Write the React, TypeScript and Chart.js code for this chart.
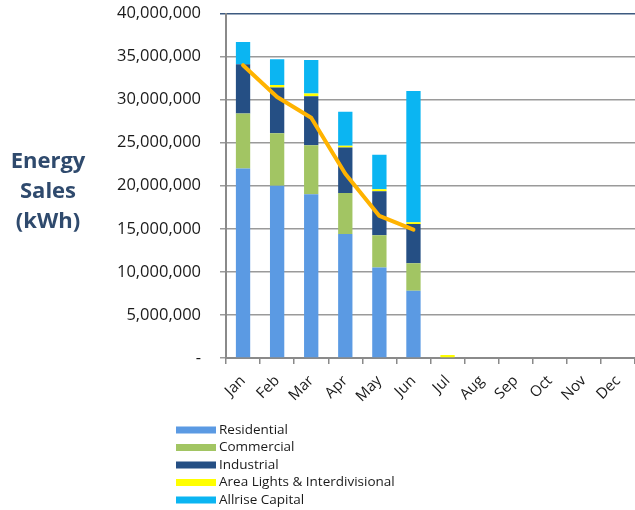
import React, { useEffect, useRef } from "react";
import { Chart, registerables } from "chart.js";

Chart.register(...registerables);

const months = ["Jan", "Feb", "Mar", "Apr", "May", "Jun", "Jul", "Aug", "Sep", "Oct", "Nov", "Dec"];
const residential = [22000000, 20000000, 19000000, 14400000, 10500000, 7800000, 0, 0, 0, 0, 0, 0];
const commercial = [6400000, 6100000, 5700000, 4750000, 3750000, 3200000, 0, 0, 0, 0, 0, 0];
const industrial = [5700000, 5300000, 5700000, 5300000, 5100000, 4550000, 0, 0, 0, 0, 0, 0];
const areaLights = [0, 300000, 300000, 200000, 250000, 200000, 350000, 0, 0, 0, 0, 0];
const allrise = [2600000, 3000000, 3900000, 3950000, 4000000, 15250000, 0, 0, 0, 0, 0, 0];
const totalLine = [34000000, 30300000, 27900000, 21400000, 16500000, 14900000, null, null, null, null, null, null];

const seriesNames = ["Residential", "Commercial", "Industrial", "Area Lights & Interdivisional", "Allrise Capital"];
const seriesColors = ["#5B9AE3", "#A2C563", "#254F84", "#FFFF00", "#0BB5F2"];
const titleLines = ["Energy", "Sales", "(kWh)"];

const yMax = 40000000;
const yStep = 5000000;

const titlePlugin = {
  id: "sideTitle",
  afterDraw(chart: any) {
    const ctx = chart.ctx;
    ctx.save();
    ctx.font = "bold 22px 'Open Sans'";
    ctx.fillStyle = "#2F4A6D";
    ctx.textAlign = "center";
    ctx.textBaseline = "alphabetic";
    const baselines = [168, 198, 228];
    titleLines.forEach((t, i) => ctx.fillText(t, 48, baselines[i]));
    ctx.restore();
  },
};

const legendPlugin = {
  id: "customLegend",
  afterDraw(chart: any) {
    const ctx = chart.ctx;
    ctx.save();
    ctx.font = "13.5px 'Open Sans'";
    ctx.textAlign = "left";
    ctx.textBaseline = "middle";
    const bars = chart.data.datasets.filter((d: any) => d.type !== "line");
    bars.forEach((d: any, i: number) => {
      const cy = 430 + i * 17.5;
      ctx.fillStyle = d.backgroundColor;
      ctx.fillRect(176, cy - 3.5, 40, 7);
      ctx.fillStyle = "#1a1a1a";
      ctx.fillText(d.label, 219, cy);
    });
    ctx.restore();
  },
};

export default function App() {
  const ref = useRef<HTMLCanvasElement>(null);
  useEffect(() => {
    if (!ref.current) return;
    const barSets = [residential, commercial, industrial, areaLights, allrise].map((data, i) => ({
      type: "bar" as const,
      label: seriesNames[i],
      data,
      backgroundColor: seriesColors[i],
      borderWidth: 0,
      stack: "s",
      order: 1,
      barPercentage: 0.42,
      categoryPercentage: 1,
    }));
    const chart = new Chart(ref.current, {
      type: "bar",
      data: {
        labels: months,
        datasets: [
          ...barSets,
          {
            type: "line" as const,
            label: "Total",
            data: totalLine as any,
            borderColor: "#FFB300",
            backgroundColor: "#FFB300",
            borderWidth: 4,
            pointRadius: 0,
            tension: 0,
            borderJoinStyle: "round",
            borderCapStyle: "round",
            order: 0,
          } as any,
        ],
      },
      options: {
        animation: false,
        responsive: false,
        layout: { padding: { left: 0, right: 0, top: 13.5, bottom: 100 } },
        plugins: {
          legend: { display: false },
          tooltip: { enabled: false },
          title: { display: false },
        },
        scales: {
          x: {
            stacked: true,
            grid: {
              offset: true,
              drawOnChartArea: false,
              drawTicks: true,
              tickLength: 6,
              color: "#8a8a8a",
              lineWidth: 1.5,
            },
            border: { color: "#8a8a8a", width: 2 },
            ticks: {
              minRotation: 45,
              maxRotation: 45,
              padding: 8,
              color: "#1a1a1a",
              font: { family: "'Open Sans'", size: 15 },
            },
            afterFit: (s: any) => {
              s.height = 52;
              s.paddingLeft = 0;
              s.paddingRight = 0;
            },
          },
          y: {
            stacked: true,
            min: 0,
            max: yMax,
            ticks: {
              stepSize: yStep,
              padding: 19,
              color: "#1a1a1a",
              font: { family: "'Open Sans'", size: 16.5 },
              callback: (v: any) => (Number(v) === 0 ? "-" : Number(v).toLocaleString("en-US")),
            },
            grid: {
              tickLength: 6,
              lineWidth: 1.5,
              color: (c: any) => (c.tick && c.tick.value === yMax ? "#3D5A80" : "#9A9A9A"),
            },
            border: { color: "#8a8a8a", width: 2 },
            afterFit: (s: any) => {
              s.width = 226;
              s.paddingTop = 0;
              s.paddingBottom = 0;
            },
          },
        },
      },
      plugins: [titlePlugin, legendPlugin],
    });
    return () => chart.destroy();
  }, []);
  return (
    <div style={{ position: "absolute", left: 0, top: 0, width: 635, height: 510, background: "#fff" }}>
      <canvas ref={ref} width={635} height={510} style={{ display: "block" }} />
    </div>
  );
}
